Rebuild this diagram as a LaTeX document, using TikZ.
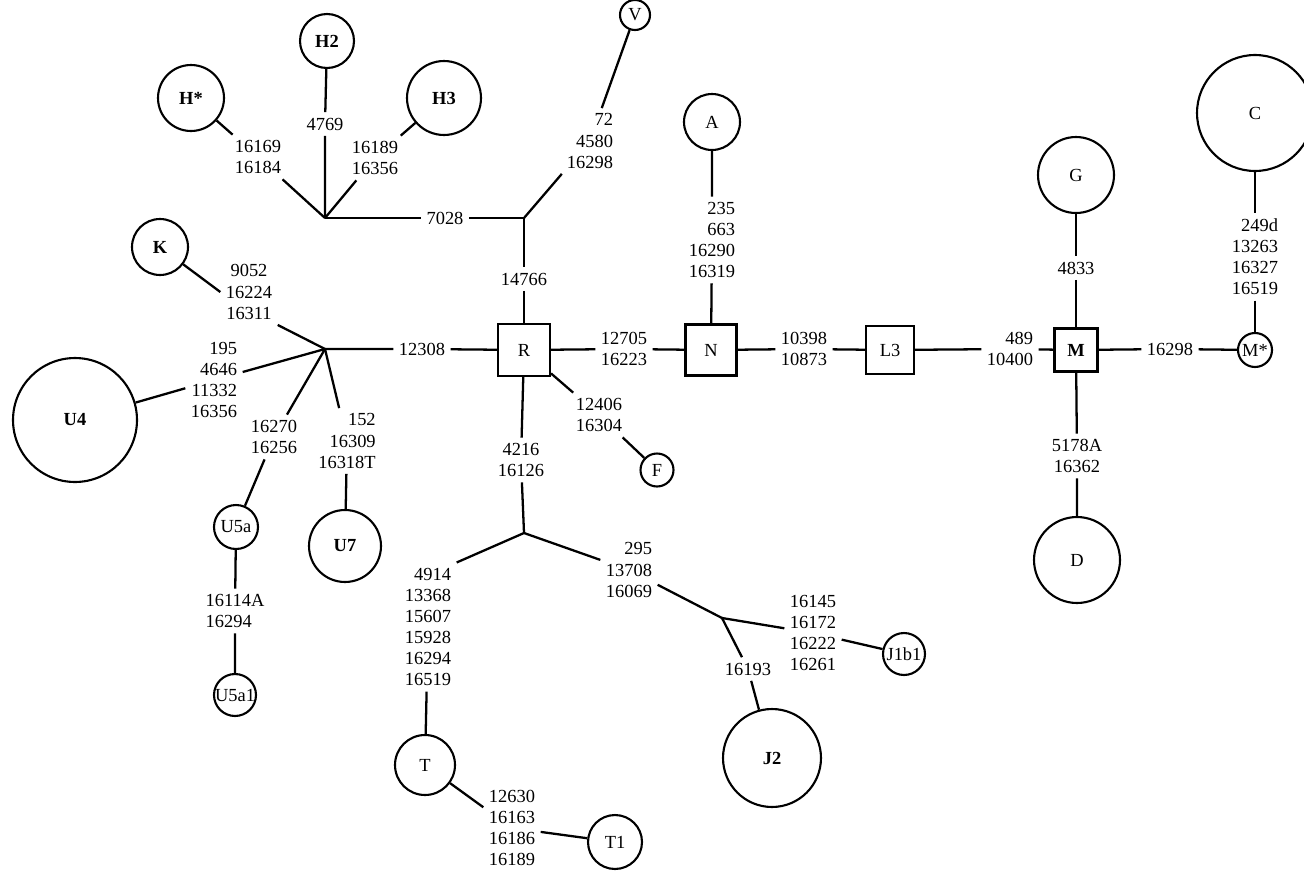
\documentclass[tikz,border=0pt]{standalone}
\usepackage{fontspec}
\setmainfont{Liberation Serif}
\usetikzlibrary{positioning}

\begin{document}
\begin{tikzpicture}[
        x=0.02cm, y=-0.02cm,
        hap/.style={circle, draw, line width=1.2pt, inner sep=0pt, minimum size=#1, font=\fontsize{10.5}{12}\selectfont},
        anc/.style={rectangle, draw, line width=1.2pt, inner sep=0pt, minimum size=#1, font=\fontsize{10.5}{12}\selectfont},
        mut/.style={inner sep=3pt, align=center, font=\fontsize{10.5}{12}\selectfont},
        link/.style={line width=1.3pt}
    ]
    \path[use as bounding box, fill=white] (0,0) rectangle (1304,872);

    % Haplogroup circles
    \node[hap=1.32cm] (Hs) at (191,98) {\textbf{H*}};
    \node[hap=1.08cm] (H2) at (327,41) {\textbf{H2}};
    \node[hap=1.48cm] (H3) at (444,98) {\textbf{H3}};
    \node[hap=0.6cm] (V) at (635,15) {V};
    \node[hap=1.12cm] (A) at (712,122) {A};
    \node[hap=1.12cm] (K) at (160,247) {\textbf{K}};
    \node[hap=2.48cm] (U4) at (75,420) {\textbf{U4}};
    \node[hap=0.88cm] (U5a) at (236,527) {U5a};
    \node[hap=0.84cm] (U5a1) at (235,695) {U5a1};
    \node[hap=1.44cm] (U7) at (345,546) {\textbf{U7}};
    \node[hap=0.66cm] (F) at (657,470) {F};
    \node[hap=1.2cm] (T) at (425,765) {T};
    \node[hap=1.08cm] (T1) at (615,842) {T1};
    \node[hap=1.96cm] (J2) at (772,758) {\textbf{J2}};
    \node[hap=0.84cm] (J1b1) at (904,654) {J1b1};
    \node[hap=1.52cm] (G) at (1076,175) {G};
    \node[hap=2.32cm] (C) at (1255,113) {C};
    \node[hap=0.68cm] (Ms) at (1255,350) {M*};
    \node[hap=1.72cm] (D) at (1077,560) {D};

    % Squares
    \node[anc=1.04cm] (R) at (524,350) {R};
    \node[anc=1.02cm] (N) at (711,350) {N};
    \node[anc=0.96cm] (L3) at (890,350) {L3};
    \node[anc=0.86cm] (M) at (1076,350) {\textbf{M}};

    % Branch points
    \coordinate (jH) at (325,218);
    \coordinate (jV) at (524,218);
    \coordinate (jU) at (325,349);
    \coordinate (jT) at (524,533);
    \coordinate (jJ) at (722,618);

    % Mutations
    \node[mut] (m7028) at (445,218) {7028};
    \node[mut, align=right] (mV) at (590,141) {72\\4580\\16298};
    \node[mut] (m14766) at (524,279) {14766};
    \node[mut] (mHs) at (258,157) {16169\\16184};
    \node[mut] (m4769) at (325,124) {4769};
    \node[mut] (mH3) at (375,158) {16189\\16356};
    \node[mut] (m12308) at (422,349) {12308};
    \node[mut] (mK) at (249,292) {9052\\16224\\16311};
    \node[mut, align=right] (mU4) at (214,380) {195\\4646\\11332\\16356};
    \node[mut] (mU5a) at (274,437) {16270\\16256};
    \node[mut, align=right] (mU7) at (347,441) {152\\16309\\16318T};
    \node[mut, align=left] (mU5a1) at (235,611) {16114A\\16294};
    \node[mut] (m12705) at (624,349) {12705\\16223};
    \node[mut] (mF) at (599,415) {12406\\16304};
    \node[mut] (m4216) at (521,460) {4216\\16126};
    \node[mut, align=right] (mT) at (428,627) {4914\\13368\\15607\\15928\\16294\\16519};
    \node[mut, align=left] (mT1) at (512,828) {12630\\16163\\16186\\16189};
    \node[mut, align=right] (mJ) at (629,570) {295\\13708\\16069};
    \node[mut] (mJ1b1) at (813,633) {16145\\16172\\16222\\16261};
    \node[mut] (m16193) at (748,669) {16193};
    \node[mut, align=right] (mA) at (712,240) {235\\663\\16290\\16319};
    \node[mut] (m10398) at (804,349) {10398\\10873};
    \node[mut, align=right] (m489) at (1010,349) {489\\10400};
    \node[mut] (m4833) at (1076,268) {4833};
    \node[mut] (m5178) at (1077,456) {5178A\\16362};
    \node[mut] (m16298) at (1170,349) {16298};
    \node[mut, align=right] (mC) at (1255,257) {249d\\13263\\16327\\16519};

    % H branch
    \draw[link] (Hs) -- (mHs) (mHs) -- (jH);
    \draw[link] (H2) -- (m4769) (m4769) -- (jH);
    \draw[link] (H3) -- (mH3) (mH3) -- (jH);
    \draw[link] (jH) -- (m7028) (m7028) -- (jV);
    \draw[link] (jV) -- (mV) (mV) -- (V);
    \draw[link] (jV) -- (m14766) (m14766) -- (R);

    % U and K branch
    \draw[link] (jU) -- (m12308) (m12308) -- (R);
    \draw[link] (K) -- (mK.west) (mK.south east) -- (jU);
    \draw[link] (jU) -- (mU4) (mU4) -- (U4);
    \draw[link] (jU) -- (mU5a) (mU5a) -- (U5a);
    \draw[link] (U5a) -- (mU5a1) (mU5a1) -- (U5a1);
    \draw[link] (jU) -- (mU7) (mU7) -- (U7);

    % R, N, L3, M
    \draw[link] (R) -- (m12705) (m12705) -- (N);
    \draw[link] (R) -- (mF) (mF) -- (F);
    \draw[link] (A) -- (mA) (mA) -- (N);
    \draw[link] (N) -- (m10398) (m10398) -- (L3);
    \draw[link] (L3) -- (m489) (m489) -- (M);
    \draw[link] (G) -- (m4833) (m4833) -- (M);
    \draw[link] (M) -- (m5178) (m5178) -- (D);
    \draw[link] (M) -- (m16298) (m16298) -- (Ms);
    \draw[link] (C) -- (mC) (mC) -- (Ms);

    % T and J branch
    \draw[link] (R) -- (m4216) (m4216) -- (jT);
    \draw[link] (jT) -- (mT.north east) (mT) -- (T);
    \draw[link] (T) -- (mT1) (mT1) -- (T1);
    \draw[link] (jT) -- (mJ) (mJ) -- (jJ);
    \draw[link] (jJ) -- (mJ1b1) (mJ1b1) -- (J1b1);
    \draw[link] (jJ) -- (m16193) (m16193) -- (J2);
\end{tikzpicture}
\end{document}
